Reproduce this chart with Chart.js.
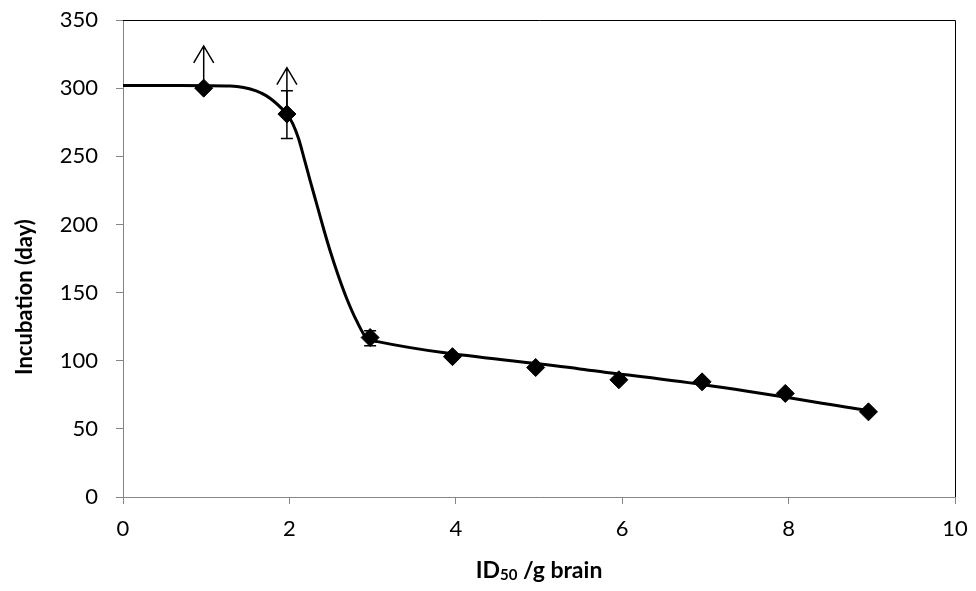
<!DOCTYPE html>
<html>
<head>
<meta charset="utf-8">
<script src="https://cdn.jsdelivr.net/npm/chart.js@4.4.1/dist/chart.umd.min.js"></script>
<style>
    html, body { margin: 0; padding: 0; background: #fff; }
    canvas { display: block; }
</style>
</head>
<body>
<canvas id="incubationChart" width="976" height="591"></canvas>
<script>
/* global Chart, document */

// measured points (diamonds)
const pointX = [0.97, 1.97, 2.97, 3.96, 4.96, 5.96, 6.96, 7.96, 8.96];
const pointY = [300, 281, 117, 103, 95, 86, 84.5, 76, 62.5];

// fitted curve
const fitX = [0, 0.7, 1.29, 1.45, 1.6, 1.72, 1.82, 1.9, 1.97, 2.04, 2.11, 2.17, 2.25, 2.33, 2.41, 2.49, 2.59, 2.69, 2.81, 2.93, 3.06, 5.49, 6.96, 8.96];
const fitY = [302, 302, 301.6, 300.5, 298, 294.5, 290, 285.5, 281, 274, 263, 250, 232, 214.5, 197, 180.5, 162, 145.5, 129, 116.5, 114, 94, 82.5, 63.5];

// error bars
const errX = [1.97, 2.97];
const errLow = [263, 111];
const errHigh = [298, 122];

// "greater than" arrows
const arrowX = [0.97, 1.97];
const arrowFrom = [300, 281];
const arrowTo = [331, 315];

const xTicks = [0, 2, 4, 6, 8, 10];
const yTicks = [0, 50, 100, 150, 200, 250, 300, 350];

const FONT = "Lato, 'Liberation Sans', sans-serif";
const AXIS_GREY = "#868686";

const extrasPlugin = {
    id: "extras",
    afterDatasetsDraw(chart) {
        const { ctx, chartArea, scales } = chart;
        const xs = scales.x, ys = scales.y;
        ctx.save();

        // top and right frame
        ctx.strokeStyle = "#000";
        ctx.lineWidth = 1;
        ctx.beginPath();
        ctx.moveTo(chartArea.left, chartArea.top + 0.5);
        ctx.lineTo(chartArea.right + 0.5, chartArea.top + 0.5);
        ctx.lineTo(chartArea.right + 0.5, chartArea.bottom);
        ctx.stroke();

        // error bars
        ctx.lineWidth = 1.5;
        errX.forEach((x, i) => {
            const px = xs.getPixelForValue(x);
            const lo = ys.getPixelForValue(errLow[i]);
            const hi = ys.getPixelForValue(errHigh[i]);
            ctx.beginPath();
            ctx.moveTo(px, lo); ctx.lineTo(px, hi);
            ctx.moveTo(px - 6, lo); ctx.lineTo(px + 6, lo);
            ctx.moveTo(px - 6, hi); ctx.lineTo(px + 6, hi);
            ctx.stroke();
        });

        // arrows
        arrowX.forEach((x, i) => {
            const px = xs.getPixelForValue(x);
            const from = ys.getPixelForValue(arrowFrom[i]);
            const tip = ys.getPixelForValue(arrowTo[i]);
            ctx.beginPath();
            ctx.moveTo(px, from); ctx.lineTo(px, tip);
            ctx.moveTo(px - 10, tip + 17); ctx.lineTo(px, tip); ctx.lineTo(px + 10, tip + 17);
            ctx.stroke();
        });

        ctx.fillStyle = "#000";
        ctx.textBaseline = "middle";

        // y axis title (sits a bit below the middle, as in the original)
        ctx.save();
        ctx.translate(25, 297);
        ctx.rotate(-Math.PI / 2);
        ctx.textAlign = "center";
        ctx.font = "bold 22px " + FONT;
        ctx.fillText("Incubation (day)", 0, 0);
        ctx.restore();

        // x axis title with subscript
        const cx = (chartArea.left + chartArea.right) / 2;
        const ty = 571;
        const big = "bold 23px " + FONT, small = "bold 15px " + FONT;
        const parts = [["ID", big, 0], ["50", small, 4], [" /g brain", big, 0]];
        let total = 0;
        parts.forEach(p => { ctx.font = p[1]; total += ctx.measureText(p[0]).width; });
        let tx = cx - total / 2;
        ctx.textAlign = "left";
        parts.forEach(p => {
            ctx.font = p[1];
            ctx.fillText(p[0], tx, ty + p[2]);
            tx += ctx.measureText(p[0]).width;
        });
        ctx.restore();
    }
};

new Chart(document.getElementById("incubationChart").getContext("2d"), {
    type: "scatter",
    data: {
        datasets: [
            {
                label: "Fit",
                type: "line",
                data: fitX.map((x, i) => ({ x: x, y: fitY[i] })),
                borderColor: "#000",
                borderWidth: 3,
                pointRadius: 0,
                fill: false,
                cubicInterpolationMode: "monotone",
                order: 2
            },
            {
                label: "Incubation",
                data: pointX.map((x, i) => ({ x: x, y: pointY[i] })),
                pointStyle: "rectRot",
                pointRadius: 9,
                pointBackgroundColor: "#000",
                pointBorderColor: "#000",
                pointBorderWidth: 1,
                showLine: false,
                order: 1
            }
        ]
    },
    options: {
        responsive: false,
        animation: false,
        devicePixelRatio: 1,
        layout: { padding: { top: 20, right: 21, left: 0, bottom: 0 } },
        plugins: {
            legend: { display: false },
            tooltip: { enabled: false }
        },
        scales: {
            x: {
                type: "linear",
                min: 0,
                max: 10,
                afterBuildTicks: axis => { axis.ticks = xTicks.map(v => ({ value: v })); },
                afterFit: axis => {
                    axis.height = 94;
                    axis.paddingLeft = 0;
                    axis.paddingRight = 0;
                },
                grid: { drawOnChartArea: false, drawTicks: true, tickLength: 7, color: AXIS_GREY },
                border: { color: AXIS_GREY, width: 1 },
                ticks: { color: "#000", padding: 12, font: { family: FONT, size: 22 } }
            },
            y: {
                type: "linear",
                min: 0,
                max: 350,
                afterBuildTicks: axis => { axis.ticks = yTicks.map(v => ({ value: v })); },
                afterFit: axis => {
                    axis.width = 123;
                    axis.paddingTop = 0;
                    axis.paddingBottom = 0;
                },
                grid: { drawOnChartArea: false, drawTicks: true, tickLength: 7, color: AXIS_GREY },
                border: { color: AXIS_GREY, width: 1 },
                ticks: { color: "#000", padding: 18, font: { family: FONT, size: 22 } }
            }
        }
    },
    plugins: [extrasPlugin]
});
</script>
</body>
</html>
